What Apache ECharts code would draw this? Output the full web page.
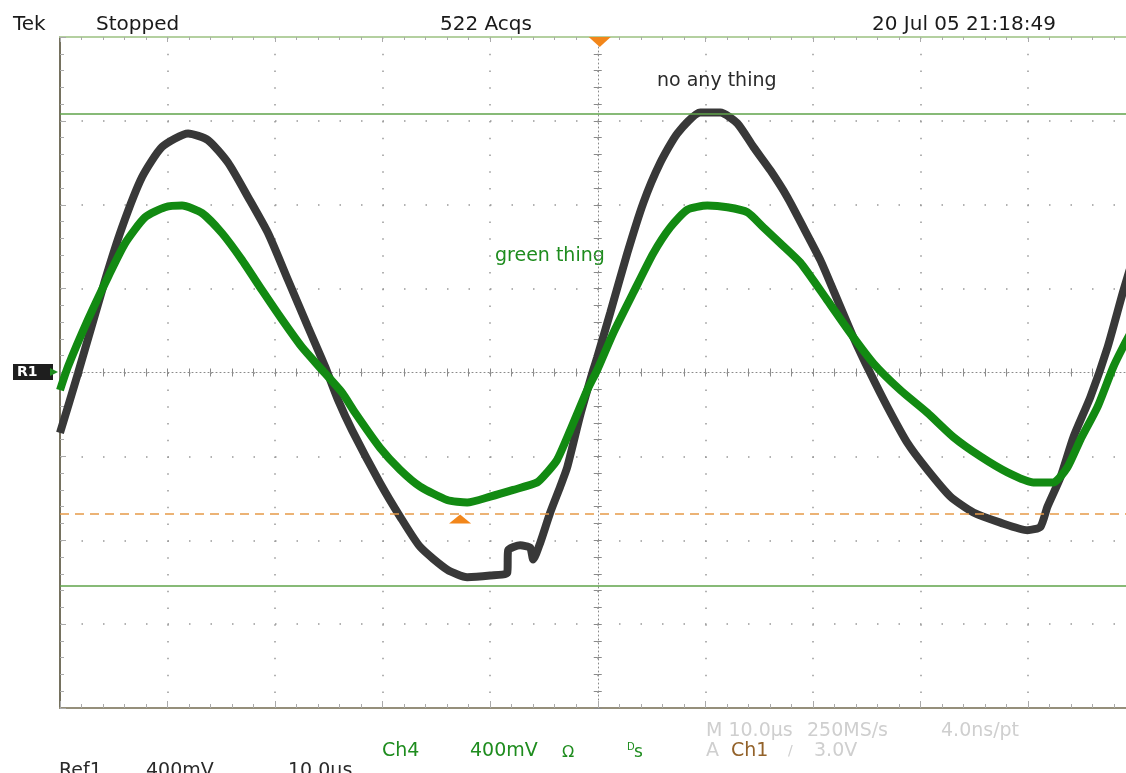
<!DOCTYPE html>
<html>
<head>
<meta charset="utf-8">
<style>html,body{margin:0;padding:0;background:#fff}#chart{width:1126px;height:773px}</style>
<script src="https://cdn.jsdelivr.net/npm/echarts@6/dist/echarts.min.js"></script>
</head>
<body>
<div id="chart"></div>
<script>
// time in µs relative to trigger, amplitude in screen divisions (400mV/div)
const ref1Time = [-50, -48.33, -45.81, -44.23, -42.37, -40.51, -38.09, -36.23, -34.37, -32.51, -30.65, -28.79, -26.93, -25.35, -24.14, -22.84, -20.23, -18.37, -16.51, -14.0, -12.14, -10.0, -8.42, -8.33, -7.21, -6.28, -6.0, -5.35, -4.42, -3.49, -2.84, -1.63, -0.42, -0.05, 1.16, 2.74, 4.23, 5.81, 7.40, 9.53, 11.40, 12.98, 14.47, 16.05, 17.63, 19.12, 20.70, 21.91, 23.77, 25.35, 26.93, 28.79, 30.65, 32.79, 34.93, 37.44, 39.95, 41.16, 41.81, 43.02, 44.23, 45.81, 47.40, 48.88, 50];
const ref1Div = [-0.72, -0.01, 1.10, 1.73, 2.33, 2.69, 2.85, 2.77, 2.50, 2.09, 1.66, 1.10, 0.54, 0.07, -0.33, -0.69, -1.32, -1.72, -2.08, -2.35, -2.44, -2.42, -2.39, -2.12, -2.06, -2.09, -2.23, -2.03, -1.67, -1.36, -1.13, -0.51, 0.03, 0.18, 0.71, 1.42, 2.02, 2.50, 2.85, 3.10, 3.10, 2.97, 2.69, 2.41, 2.09, 1.73, 1.34, 0.98, 0.42, -0.01, -0.41, -0.84, -1.16, -1.48, -1.67, -1.79, -1.88, -1.84, -1.60, -1.25, -0.77, -0.29, 0.30, 0.98, 1.45];

const ch4Time = [-50, -49.26, -47.40, -45.53, -43.95, -42.09, -40.23, -38.65, -36.79, -34.93, -33.07, -31.21, -29.35, -27.49, -25.63, -23.77, -22.56, -20.23, -18.37, -16.51, -14.0, -12.14, -10.0, -7.86, -5.63, -4.70, -3.77, -2.56, -0.98, -0.05, 1.44, 3.30, 5.16, 6.74, 8.33, 10.19, 12.05, 13.91, 15.40, 16.98, 18.84, 21.35, 23.49, 25.63, 28.14, 30.65, 33.07, 35.58, 38.09, 40.51, 42.37, 43.67, 44.88, 46.47, 47.95, 49.07, 50];
const ch4Div = [-0.21, 0.07, 0.63, 1.14, 1.54, 1.85, 1.97, 1.99, 1.90, 1.66, 1.34, 0.98, 0.63, 0.30, 0.03, -0.24, -0.48, -0.90, -1.16, -1.36, -1.52, -1.55, -1.48, -1.40, -1.31, -1.19, -1.04, -0.69, -0.21, 0.03, 0.47, 0.95, 1.42, 1.73, 1.94, 1.99, 1.97, 1.91, 1.73, 1.54, 1.31, 0.86, 0.47, 0.11, -0.21, -0.48, -0.77, -1.00, -1.19, -1.31, -1.31, -1.13, -0.80, -0.41, 0.07, 0.36, 0.58];

const cursorLevels = [3.09, -2.545];
const triggerLevel = -1.675;
const triggerLevelMarkTime = -12.8;

const FONT = '"DejaVu Sans", sans-serif';
const chart = echarts.init(document.getElementById('chart'));

function txt(x, y, s, color, size) {
    return {
        type: 'text', x: x, y: y, silent: true,
        style: { text: s, fill: color, font: (size || 19) + 'px ' + FONT, align: 'left', verticalAlign: 'middle' }
    };
}

function xAx(extra) {
    return Object.assign({
        type: 'value', min: -50, max: 50, interval: 10,
        axisLabel: { show: false }, splitLine: { show: false }
    }, extra);
}
function yAx(extra) {
    return Object.assign({
        type: 'value', min: -4, max: 4, interval: 1,
        axisLabel: { show: false }, splitLine: { show: false }
    }, extra);
}

const option = {
    animation: false,
    backgroundColor: '#fff',
    // the screen grid runs a little past the right edge of the picture
    grid: { left: 60, top: 37, width: 1075.5, height: 671, outerBoundsMode: 'none', containLabel: false },
    xAxis: [
        xAx({
            position: 'bottom',
            axisLine: { onZero: false, lineStyle: { color: '#958f7b', width: 2 } },
            axisTick: { inside: true, length: 7, lineStyle: { color: '#aaa' } },
            minorTick: { show: true, splitNumber: 5, length: 4, lineStyle: { color: '#aaa' } },
            splitLine: { show: true, lineStyle: { color: '#999', width: 1.5, type: [1.5, 15.28] } }
        }),
        xAx({
            position: 'top',
            axisLine: { onZero: false, lineStyle: { color: '#b4d0a0', width: 2 } },
            axisTick: { inside: true, length: 5, lineStyle: { color: '#aaa' } },
            minorTick: { show: true, splitNumber: 5, length: 3, lineStyle: { color: '#aaa' } }
        }),
        xAx({
            position: 'bottom', interval: 2,
            axisLine: { onZero: true, onZeroAxisIndex: 0, lineStyle: { color: '#8a8a8a', width: 1, type: [1, 3] } },
            axisTick: { length: 4, lineStyle: { color: '#8a8a8a' } }
        }),
        xAx({
            position: 'top', interval: 2,
            axisLine: { show: false, onZero: true, onZeroAxisIndex: 0 },
            axisTick: { length: 4, lineStyle: { color: '#8a8a8a' } }
        })
    ],
    yAxis: [
        yAx({
            position: 'left',
            axisLine: { onZero: false, lineStyle: { color: '#75715f', width: 2 } },
            axisTick: { inside: true, length: 6, lineStyle: { color: '#aaa' } },
            minorTick: { show: true, splitNumber: 5, length: 4, lineStyle: { color: '#aaa' } },
            splitLine: { show: true, lineStyle: { color: '#999', width: 1.5, type: [1.5, 20] } }
        }),
        yAx({
            position: 'left', interval: 0.2,
            axisLine: { onZero: true, onZeroAxisIndex: 0, lineStyle: { color: '#8a8a8a', width: 1, type: [1, 3] } },
            axisTick: { length: 4, lineStyle: { color: '#8a8a8a' } }
        }),
        yAx({
            position: 'right', interval: 0.2,
            axisLine: { show: false, onZero: true, onZeroAxisIndex: 0 },
            axisTick: { length: 4, lineStyle: { color: '#8a8a8a' } }
        })
    ],
    series: [
        {
            name: 'Ref1', type: 'line', z: 3,
            data: ref1Time.map((t, i) => [t, ref1Div[i]]),
            showSymbol: false, smooth: 0.2,
            lineStyle: { color: '#383838', width: 8 }
        },
        {
            name: 'Ch4', type: 'line', z: 4,
            data: ch4Time.map((t, i) => [t, ch4Div[i]]),
            showSymbol: false, smooth: 0.2,
            lineStyle: { color: '#128a12', width: 8 },
            markLine: {
                silent: true, symbol: 'none', label: { show: false }, z: 6,
                data: [
                    { yAxis: cursorLevels[0], lineStyle: { color: '#5fa34a', width: 1.5, type: 'solid' } },
                    { yAxis: cursorLevels[1], lineStyle: { color: '#5fa34a', width: 1.5, type: 'solid' } },
                    { yAxis: triggerLevel, lineStyle: { color: '#e69a48', width: 1.5, type: [9, 6] } }
                ]
            },
            markPoint: {
                silent: true, label: { show: false }, z: 7,
                data: [
                    { coord: [0, 4], symbol: 'triangle', symbolRotate: 180, symbolSize: [22, 10], symbolOffset: [2, 5], itemStyle: { color: '#f2861a' } },
                    { coord: [triggerLevelMarkTime, triggerLevel], symbol: 'triangle', symbolSize: [22, 9], symbolOffset: [0, 6], itemStyle: { color: '#f2861a' } }
                ]
            }
        }
    ],
    graphic: [
        txt(13, 25, 'Tek', '#1a1a1a', 20),
        txt(96, 25, 'Stopped', '#1a1a1a', 20),
        txt(440, 25, '522 Acqs', '#1a1a1a', 20),
        txt(872, 25, '20 Jul 05 21:18:49', '#1a1a1a', 20),
        txt(657, 81, 'no any thing', '#2a2a2a'),
        txt(495, 256, 'green thing', '#1e8c1e'),
        { type: 'rect', shape: { x: 13, y: 364, width: 40, height: 16 }, style: { fill: '#1e1e1e' }, silent: true },
        { type: 'text', x: 17, y: 372, silent: true, style: { text: 'R1', fill: '#fff', font: 'bold 14px ' + FONT, verticalAlign: 'middle' } },
        { type: 'polygon', shape: { points: [[50, 368], [58, 372], [50, 376]] }, style: { fill: '#1e8c1e' }, silent: true },
        txt(706, 731, 'M 10.0µs', '#cfcfcf'),
        txt(807, 731, '250MS/s', '#cfcfcf'),
        txt(941, 731, '4.0ns/pt', '#cfcfcf'),
        txt(382, 751, 'Ch4', '#1e8c1e'),
        txt(470, 751, '400mV', '#1e8c1e'),
        txt(562, 753, 'Ω', '#1e8c1e', 16),
        txt(627, 747, 'D', '#1e8c1e', 10),
        txt(634, 753, 's', '#1e8c1e', 17),
        txt(706, 751, 'A', '#cfcfcf'),
        txt(731, 751, 'Ch1', '#93622a'),
        txt(788, 751, '/', '#cfcfcf', 14),
        txt(814, 751, '3.0V', '#cfcfcf'),
        txt(59, 771, 'Ref1', '#2a2a2a'),
        txt(146, 771, '400mV', '#2a2a2a'),
        txt(288, 771, '10.0µs', '#2a2a2a')
    ]
};
chart.setOption(option);
</script>
</body>
</html>
